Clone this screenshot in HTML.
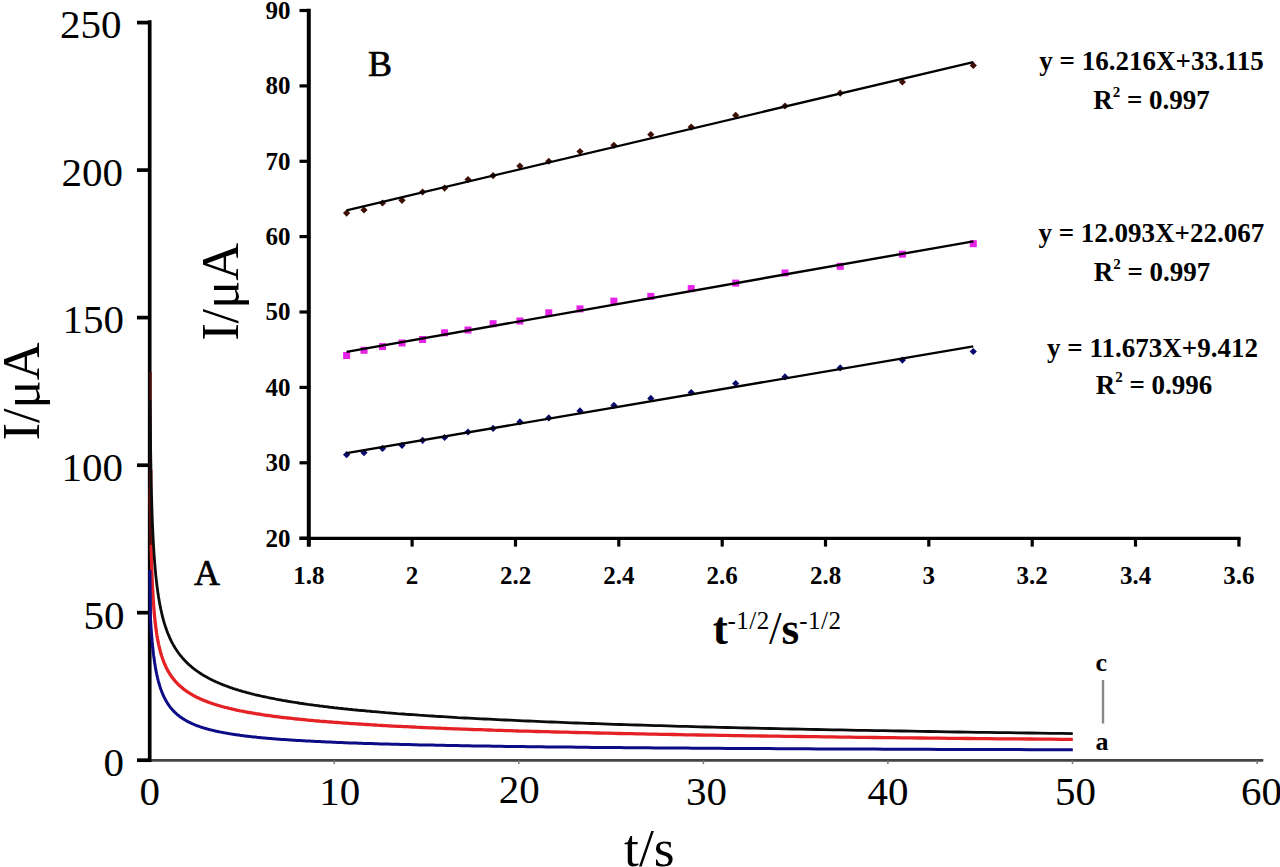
<!DOCTYPE html>
<html><head><meta charset="utf-8"><style>
html,body{margin:0;padding:0;background:#fff;width:1280px;height:867px;overflow:hidden;}
svg{display:block;font-family:"Liberation Serif",serif;}
</style></head><body>
<svg width="1280" height="867" viewBox="0 0 1280 867">
<rect width="1280" height="867" fill="#fff"/>
<line x1="149" y1="760.4" x2="1263.3" y2="760.4" stroke="#444" stroke-width="2.6"/>
<g stroke="#777" stroke-width="1.5">
<line x1="334.3" y1="760.4" x2="334.3" y2="764"/>
<line x1="518.8" y1="760.4" x2="518.8" y2="764"/>
<line x1="703.4" y1="760.4" x2="703.4" y2="764"/>
<line x1="887.9" y1="760.4" x2="887.9" y2="764"/>
<line x1="1072.5" y1="760.4" x2="1072.5" y2="764"/>
<line x1="1257.1" y1="760.4" x2="1257.1" y2="764"/>
</g>
<g stroke="#000" stroke-width="3.7">
<line x1="149.7" y1="20.2" x2="149.7" y2="762"/>
<line x1="137" y1="760.2" x2="151" y2="760.2"/>
<line x1="137" y1="612.7" x2="151" y2="612.7"/>
<line x1="137" y1="465.2" x2="151" y2="465.2"/>
<line x1="137" y1="317.6" x2="151" y2="317.6"/>
<line x1="137" y1="170.1" x2="151" y2="170.1"/>
<line x1="137" y1="22.6" x2="151" y2="22.6"/>
</g>
<g fill="none" stroke-width="2.6" stroke-linejoin="round">
<polyline stroke="#e42226" stroke-width="3.3" points="150.8,470.0 150.4,498.9 150.4,501.4 150.5,503.8 150.5,506.2 150.5,508.6 150.5,510.9 150.6,513.1 150.6,515.3 150.6,517.5 150.7,519.6 150.7,521.7 150.7,523.7 150.8,525.7 150.8,527.6 150.8,529.5 150.9,531.4 150.9,533.3 150.9,535.1 151.0,536.9 151.0,538.6 151.0,540.4 151.1,542.1 151.1,543.7 151.1,545.4 151.2,547.0 151.2,548.6 151.2,550.2 151.3,551.7 151.3,553.2 151.4,554.7 151.4,556.2 151.4,557.7 151.5,559.1 151.5,560.5 151.6,561.9 151.6,563.3 151.6,564.7 151.7,566.0 151.7,567.3 151.8,568.6 151.8,569.9 151.9,571.2 151.9,572.4 152.0,573.7 152.0,574.9 152.0,576.1 152.1,577.3 152.1,578.5 152.2,579.7 152.2,580.8 152.3,582.0 152.3,583.1 152.4,584.2 152.4,585.3 152.5,586.4 152.5,587.5 152.6,588.6 152.7,589.6 152.7,590.7 152.8,591.7 152.8,592.7 152.9,593.8 152.9,594.8 153.0,595.8 153.1,596.7 153.1,597.7 153.2,598.7 153.2,599.6 153.3,600.6 153.4,601.5 153.4,602.5 153.5,603.4 153.6,604.3 153.6,605.2 153.7,606.1 153.8,607.0 153.8,607.8 153.9,608.7 154.0,609.6 154.0,610.4 154.1,611.3 154.2,612.1 154.3,613.0 154.3,613.8 154.4,614.6 154.5,615.4 154.6,616.2 154.6,617.0 154.7,617.8 154.8,618.6 154.9,619.4 155.0,620.1 155.0,620.9 155.1,621.7 155.2,622.4 155.3,623.2 155.4,623.9 155.5,624.6 155.6,625.4 155.6,626.1 155.7,626.8 155.8,627.5 155.9,628.2 156.0,628.9 156.1,629.6 156.2,630.3 156.3,631.0 156.4,631.7 156.5,632.4 156.6,633.1 156.7,633.7 156.8,634.4 156.9,635.0 157.0,635.7 157.1,636.3 157.2,637.0 157.4,637.6 157.5,638.3 157.6,638.9 157.7,639.5 157.8,640.1 157.9,640.7 158.0,641.4 158.2,642.0 158.3,642.6 158.4,643.2 158.5,643.8 158.7,644.4 158.8,645.0 158.9,645.5 159.0,646.1 159.2,646.7 159.3,647.3 159.5,647.8 159.6,648.4 159.7,649.0 159.9,649.5 160.0,650.1 160.2,650.6 160.3,651.2 160.4,651.7 160.6,652.3 160.7,652.8 160.9,653.3 161.1,653.9 161.2,654.4 161.4,654.9 161.5,655.4 161.7,656.0 161.9,656.5 162.0,657.0 162.2,657.5 162.4,658.0 162.5,658.5 162.7,659.0 162.9,659.5 163.1,660.0 163.2,660.5 163.4,661.0 163.6,661.4 163.8,661.9 164.0,662.4 164.2,662.9 164.4,663.4 164.6,663.8 164.8,664.3 165.0,664.8 165.2,665.2 165.4,665.7 165.6,666.1 165.8,666.6 166.0,667.0 166.2,667.5 166.5,667.9 166.7,668.4 166.9,668.8 167.1,669.3 167.4,669.7 167.6,670.1 167.8,670.6 168.1,671.0 168.3,671.4 168.6,671.8 168.8,672.3 169.1,672.7 169.3,673.1 169.6,673.5 169.8,673.9 170.1,674.3 170.4,674.8 170.6,675.2 170.9,675.6 171.2,676.0 171.4,676.4 171.7,676.8 172.0,677.2 172.3,677.5 172.6,677.9 172.9,678.3 173.2,678.7 173.5,679.1 173.8,679.5 174.1,679.9 174.4,680.2 174.7,680.6 175.1,681.0 175.4,681.4 175.7,681.7 176.1,682.1 176.4,682.5 176.7,682.8 177.1,683.2 177.4,683.6 177.8,683.9 178.2,684.3 178.5,684.6 178.9,685.0 179.3,685.3 179.6,685.7 180.0,686.0 180.4,686.4 180.8,686.7 181.2,687.1 181.6,687.4 182.0,687.7 182.4,688.1 182.8,688.4 183.2,688.8 183.7,689.1 184.1,689.4 184.5,689.7 185.0,690.1 185.4,690.4 185.9,690.7 186.3,691.0 186.8,691.4 187.2,691.7 187.7,692.0 188.2,692.3 188.7,692.6 189.2,692.9 189.7,693.3 190.2,693.6 190.7,693.9 191.2,694.2 191.7,694.5 192.2,694.8 192.8,695.1 193.3,695.4 193.9,695.7 194.4,696.0 195.0,696.3 195.6,696.6 196.1,696.9 196.7,697.2 197.3,697.5 197.9,697.7 198.5,698.0 199.1,698.3 199.7,698.6 200.3,698.9 201.0,699.2 201.6,699.4 202.3,699.7 202.9,700.0 203.6,700.3 204.2,700.6 204.9,700.8 205.6,701.1 206.3,701.4 207.0,701.6 207.7,701.9 208.4,702.2 209.2,702.4 209.9,702.7 210.7,703.0 211.4,703.2 212.2,703.5 213.0,703.8 213.7,704.0 214.5,704.3 215.3,704.5 216.2,704.8 217.0,705.0 217.8,705.3 218.7,705.5 219.5,705.8 220.4,706.0 221.2,706.3 222.1,706.5 223.0,706.8 223.9,707.0 224.9,707.3 225.8,707.5 226.7,707.7 227.7,708.0 228.6,708.2 229.6,708.5 230.6,708.7 231.6,708.9 232.6,709.2 233.6,709.4 234.7,709.6 235.7,709.9 236.8,710.1 237.8,710.3 238.9,710.5 240.0,710.8 241.1,711.0 242.3,711.2 243.4,711.4 244.5,711.7 245.7,711.9 246.9,712.1 248.1,712.3 249.3,712.5 250.5,712.7 251.8,713.0 253.0,713.2 254.3,713.4 255.6,713.6 256.9,713.8 258.2,714.0 259.5,714.2 260.9,714.4 262.2,714.7 263.6,714.9 265.0,715.1 266.4,715.3 267.9,715.5 269.3,715.7 270.8,715.9 272.3,716.1 273.8,716.3 275.3,716.5 276.8,716.7 278.4,716.9 279.9,717.1 281.5,717.3 283.2,717.5 284.8,717.6 286.4,717.8 288.1,718.0 289.8,718.2 291.5,718.4 293.3,718.6 295.0,718.8 296.8,719.0 298.6,719.2 300.4,719.4 302.3,719.5 304.1,719.7 306.0,719.9 307.9,720.1 309.8,720.3 311.8,720.4 313.8,720.6 315.8,720.8 317.8,721.0 319.9,721.2 321.9,721.3 324.0,721.5 326.2,721.7 328.3,721.9 330.5,722.0 332.7,722.2 334.9,722.4 337.2,722.5 339.5,722.7 341.8,722.9 344.2,723.1 346.5,723.2 348.9,723.4 351.4,723.6 353.8,723.7 356.3,723.9 358.8,724.0 361.4,724.2 364.0,724.4 366.6,724.5 369.2,724.7 371.9,724.9 374.6,725.0 377.3,725.2 380.1,725.3 382.9,725.5 385.7,725.6 388.6,725.8 391.5,726.0 394.5,726.1 397.5,726.3 400.5,726.4 403.5,726.6 406.6,726.7 409.7,726.9 412.9,727.0 416.1,727.2 419.3,727.3 422.6,727.5 426.0,727.6 429.3,727.8 432.7,727.9 436.2,728.1 439.6,728.2 443.2,728.3 446.7,728.5 450.3,728.6 454.0,728.8 457.7,728.9 461.5,729.1 465.2,729.2 469.1,729.3 473.0,729.5 476.9,729.6 480.9,729.7 484.9,729.9 489.0,730.0 493.1,730.2 497.3,730.3 501.5,730.4 505.8,730.6 510.1,730.7 514.5,730.8 518.9,731.0 523.4,731.1 527.9,731.2 532.5,731.3 537.2,731.5 541.9,731.6 546.6,731.7 551.5,731.9 556.3,732.0 561.3,732.1 566.3,732.2 571.3,732.4 576.4,732.5 581.6,732.6 586.9,732.7 592.2,732.9 597.6,733.0 603.0,733.1 608.5,733.2 614.1,733.4 619.7,733.5 625.4,733.6 631.2,733.7 637.0,733.8 642.9,733.9 648.9,734.1 655.0,734.2 661.1,734.3 667.3,734.4 673.6,734.5 680.0,734.6 686.4,734.8 692.9,734.9 699.5,735.0 706.2,735.1 712.9,735.2 719.7,735.3 726.7,735.4 733.7,735.6 740.7,735.7 747.9,735.8 755.2,735.9 762.5,736.0 769.9,736.1 777.5,736.2 785.1,736.3 792.8,736.4 800.6,736.5 808.5,736.6 816.5,736.7 824.5,736.8 832.7,736.9 841.0,737.1 849.4,737.2 857.9,737.3 866.5,737.4 875.1,737.5 883.9,737.6 892.8,737.7 901.9,737.8 911.0,737.9 920.2,738.0 929.5,738.1 939.0,738.2 948.6,738.3 958.2,738.4 968.0,738.5 978.0,738.6 988.0,738.7 998.2,738.8 1008.4,738.9 1018.8,738.9 1029.4,739.0 1040.0,739.1 1050.8,739.2 1061.7,739.3 1072.8,739.4"/>
<line x1="150.4" y1="372" x2="150.4" y2="545" stroke="#4a0a0a" stroke-width="2.4"/>
<polyline stroke="#0c0c86" stroke-width="3.0" points="149.9,570.0 150.4,617.5 150.4,617.9 150.5,618.4 150.5,618.9 150.5,619.4 150.5,619.9 150.6,620.4 150.6,620.9 150.6,621.3 150.7,621.8 150.7,622.3 150.7,622.8 150.8,623.3 150.8,623.8 150.8,624.3 150.9,624.8 150.9,625.3 150.9,625.8 151.0,626.3 151.0,626.8 151.0,627.3 151.1,627.8 151.1,628.4 151.1,628.9 151.2,629.4 151.2,629.9 151.2,630.4 151.3,630.9 151.3,631.4 151.4,631.9 151.4,632.5 151.4,633.0 151.5,633.5 151.5,634.0 151.6,634.5 151.6,635.1 151.6,635.6 151.7,636.1 151.7,636.6 151.8,637.2 151.8,637.7 151.9,638.2 151.9,638.7 152.0,639.3 152.0,639.8 152.0,640.3 152.1,640.8 152.1,641.4 152.2,641.9 152.2,642.4 152.3,643.0 152.3,643.5 152.4,644.0 152.4,644.5 152.5,645.1 152.5,645.6 152.6,646.1 152.7,646.7 152.7,647.2 152.8,647.7 152.8,648.3 152.9,648.8 152.9,649.3 153.0,649.8 153.1,650.4 153.1,650.9 153.2,651.4 153.2,652.0 153.3,652.5 153.4,653.0 153.4,653.5 153.5,654.1 153.6,654.6 153.6,655.1 153.7,655.7 153.8,656.2 153.8,656.7 153.9,657.2 154.0,657.8 154.0,658.3 154.1,658.8 154.2,659.3 154.3,659.8 154.3,660.4 154.4,660.9 154.5,661.4 154.6,661.9 154.6,662.4 154.7,663.0 154.8,663.5 154.9,664.0 155.0,664.5 155.0,665.0 155.1,665.5 155.2,666.0 155.3,666.5 155.4,667.1 155.5,667.6 155.6,668.1 155.6,668.6 155.7,669.1 155.8,669.6 155.9,670.1 156.0,670.6 156.1,671.1 156.2,671.6 156.3,672.1 156.4,672.6 156.5,673.1 156.6,673.6 156.7,674.1 156.8,674.5 156.9,675.0 157.0,675.5 157.1,676.0 157.2,676.5 157.4,677.0 157.5,677.5 157.6,677.9 157.7,678.4 157.8,678.9 157.9,679.4 158.0,679.8 158.2,680.3 158.3,680.8 158.4,681.2 158.5,681.7 158.7,682.2 158.8,682.6 158.9,683.1 159.0,683.6 159.2,684.0 159.3,684.5 159.5,684.9 159.6,685.4 159.7,685.8 159.9,686.3 160.0,686.7 160.2,687.2 160.3,687.6 160.4,688.1 160.6,688.5 160.7,688.9 160.9,689.4 161.1,689.8 161.2,690.2 161.4,690.7 161.5,691.1 161.7,691.5 161.9,692.0 162.0,692.4 162.2,692.8 162.4,693.2 162.5,693.6 162.7,694.0 162.9,694.5 163.1,694.9 163.2,695.3 163.4,695.7 163.6,696.1 163.8,696.5 164.0,696.9 164.2,697.3 164.4,697.7 164.6,698.1 164.8,698.5 165.0,698.9 165.2,699.3 165.4,699.6 165.6,700.0 165.8,700.4 166.0,700.8 166.2,701.2 166.5,701.6 166.7,701.9 166.9,702.3 167.1,702.7 167.4,703.0 167.6,703.4 167.8,703.8 168.1,704.1 168.3,704.5 168.6,704.8 168.8,705.2 169.1,705.6 169.3,705.9 169.6,706.3 169.8,706.6 170.1,707.0 170.4,707.3 170.6,707.6 170.9,708.0 171.2,708.3 171.4,708.7 171.7,709.0 172.0,709.3 172.3,709.6 172.6,710.0 172.9,710.3 173.2,710.6 173.5,710.9 173.8,711.3 174.1,711.6 174.4,711.9 174.7,712.2 175.1,712.5 175.4,712.8 175.7,713.1 176.1,713.5 176.4,713.8 176.7,714.1 177.1,714.4 177.4,714.7 177.8,715.0 178.2,715.2 178.5,715.5 178.9,715.8 179.3,716.1 179.6,716.4 180.0,716.7 180.4,717.0 180.8,717.3 181.2,717.5 181.6,717.8 182.0,718.1 182.4,718.4 182.8,718.6 183.2,718.9 183.7,719.2 184.1,719.4 184.5,719.7 185.0,720.0 185.4,720.2 185.9,720.5 186.3,720.7 186.8,721.0 187.2,721.3 187.7,721.5 188.2,721.8 188.7,722.0 189.2,722.3 189.7,722.5 190.2,722.7 190.7,723.0 191.2,723.2 191.7,723.5 192.2,723.7 192.8,723.9 193.3,724.2 193.9,724.4 194.4,724.6 195.0,724.9 195.6,725.1 196.1,725.3 196.7,725.5 197.3,725.8 197.9,726.0 198.5,726.2 199.1,726.4 199.7,726.6 200.3,726.8 201.0,727.1 201.6,727.3 202.3,727.5 202.9,727.7 203.6,727.9 204.2,728.1 204.9,728.3 205.6,728.5 206.3,728.7 207.0,728.9 207.7,729.1 208.4,729.3 209.2,729.5 209.9,729.7 210.7,729.9 211.4,730.1 212.2,730.2 213.0,730.4 213.7,730.6 214.5,730.8 215.3,731.0 216.2,731.2 217.0,731.4 217.8,731.5 218.7,731.7 219.5,731.9 220.4,732.1 221.2,732.2 222.1,732.4 223.0,732.6 223.9,732.7 224.9,732.9 225.8,733.1 226.7,733.2 227.7,733.4 228.6,733.6 229.6,733.7 230.6,733.9 231.6,734.1 232.6,734.2 233.6,734.4 234.7,734.5 235.7,734.7 236.8,734.8 237.8,735.0 238.9,735.1 240.0,735.3 241.1,735.4 242.3,735.6 243.4,735.7 244.5,735.9 245.7,736.0 246.9,736.2 248.1,736.3 249.3,736.4 250.5,736.6 251.8,736.7 253.0,736.9 254.3,737.0 255.6,737.1 256.9,737.3 258.2,737.4 259.5,737.5 260.9,737.7 262.2,737.8 263.6,737.9 265.0,738.0 266.4,738.2 267.9,738.3 269.3,738.4 270.8,738.5 272.3,738.7 273.8,738.8 275.3,738.9 276.8,739.0 278.4,739.2 279.9,739.3 281.5,739.4 283.2,739.5 284.8,739.6 286.4,739.7 288.1,739.8 289.8,740.0 291.5,740.1 293.3,740.2 295.0,740.3 296.8,740.4 298.6,740.5 300.4,740.6 302.3,740.7 304.1,740.8 306.0,740.9 307.9,741.0 309.8,741.1 311.8,741.2 313.8,741.3 315.8,741.4 317.8,741.5 319.9,741.6 321.9,741.7 324.0,741.8 326.2,741.9 328.3,742.0 330.5,742.1 332.7,742.2 334.9,742.3 337.2,742.4 339.5,742.5 341.8,742.6 344.2,742.7 346.5,742.8 348.9,742.9 351.4,742.9 353.8,743.0 356.3,743.1 358.8,743.2 361.4,743.3 364.0,743.4 366.6,743.5 369.2,743.5 371.9,743.6 374.6,743.7 377.3,743.8 380.1,743.9 382.9,743.9 385.7,744.0 388.6,744.1 391.5,744.2 394.5,744.3 397.5,744.3 400.5,744.4 403.5,744.5 406.6,744.6 409.7,744.6 412.9,744.7 416.1,744.8 419.3,744.9 422.6,744.9 426.0,745.0 429.3,745.1 432.7,745.1 436.2,745.2 439.6,745.3 443.2,745.3 446.7,745.4 450.3,745.5 454.0,745.5 457.7,745.6 461.5,745.7 465.2,745.7 469.1,745.8 473.0,745.9 476.9,745.9 480.9,746.0 484.9,746.1 489.0,746.1 493.1,746.2 497.3,746.2 501.5,746.3 505.8,746.4 510.1,746.4 514.5,746.5 518.9,746.5 523.4,746.6 527.9,746.7 532.5,746.7 537.2,746.8 541.9,746.8 546.6,746.9 551.5,746.9 556.3,747.0 561.3,747.0 566.3,747.1 571.3,747.1 576.4,747.2 581.6,747.3 586.9,747.3 592.2,747.4 597.6,747.4 603.0,747.5 608.5,747.5 614.1,747.6 619.7,747.6 625.4,747.7 631.2,747.7 637.0,747.7 642.9,747.8 648.9,747.8 655.0,747.9 661.1,747.9 667.3,748.0 673.6,748.0 680.0,748.1 686.4,748.1 692.9,748.2 699.5,748.2 706.2,748.3 712.9,748.3 719.7,748.3 726.7,748.4 733.7,748.4 740.7,748.5 747.9,748.5 755.2,748.5 762.5,748.6 769.9,748.6 777.5,748.7 785.1,748.7 792.8,748.7 800.6,748.8 808.5,748.8 816.5,748.9 824.5,748.9 832.7,748.9 841.0,749.0 849.4,749.0 857.9,749.1 866.5,749.1 875.1,749.1 883.9,749.2 892.8,749.2 901.9,749.2 911.0,749.3 920.2,749.3 929.5,749.3 939.0,749.4 948.6,749.4 958.2,749.4 968.0,749.5 978.0,749.5 988.0,749.5 998.2,749.6 1008.4,749.6 1018.8,749.6 1029.4,749.7 1040.0,749.7 1050.8,749.7 1061.7,749.8 1072.8,749.8"/>
<polyline stroke="#0c0c0c" stroke-width="2.8" points="149.8,400.0 150.4,433.5 150.4,435.7 150.5,437.9 150.5,440.1 150.5,442.3 150.5,444.4 150.6,446.5 150.6,448.6 150.6,450.7 150.7,452.7 150.7,454.7 150.7,456.7 150.8,458.6 150.8,460.5 150.8,462.5 150.9,464.3 150.9,466.2 150.9,468.0 151.0,469.9 151.0,471.7 151.0,473.4 151.1,475.2 151.1,476.9 151.1,478.7 151.2,480.4 151.2,482.1 151.2,483.7 151.3,485.4 151.3,487.0 151.4,488.6 151.4,490.2 151.4,491.8 151.5,493.4 151.5,495.0 151.6,496.5 151.6,498.0 151.6,499.5 151.7,501.0 151.7,502.5 151.8,504.0 151.8,505.4 151.9,506.9 151.9,508.3 152.0,509.7 152.0,511.1 152.0,512.5 152.1,513.9 152.1,515.3 152.2,516.6 152.2,518.0 152.3,519.3 152.3,520.6 152.4,521.9 152.4,523.2 152.5,524.5 152.5,525.8 152.6,527.1 152.7,528.3 152.7,529.6 152.8,530.8 152.8,532.1 152.9,533.3 152.9,534.5 153.0,535.7 153.1,536.9 153.1,538.1 153.2,539.2 153.2,540.4 153.3,541.6 153.4,542.7 153.4,543.8 153.5,545.0 153.6,546.1 153.6,547.2 153.7,548.3 153.8,549.4 153.8,550.5 153.9,551.6 154.0,552.7 154.0,553.7 154.1,554.8 154.2,555.8 154.3,556.9 154.3,557.9 154.4,559.0 154.5,560.0 154.6,561.0 154.6,562.0 154.7,563.0 154.8,564.0 154.9,565.0 155.0,566.0 155.0,567.0 155.1,567.9 155.2,568.9 155.3,569.9 155.4,570.8 155.5,571.8 155.6,572.7 155.6,573.6 155.7,574.6 155.8,575.5 155.9,576.4 156.0,577.3 156.1,578.2 156.2,579.1 156.3,580.0 156.4,580.9 156.5,581.8 156.6,582.7 156.7,583.5 156.8,584.4 156.9,585.3 157.0,586.1 157.1,587.0 157.2,587.8 157.4,588.7 157.5,589.5 157.6,590.3 157.7,591.2 157.8,592.0 157.9,592.8 158.0,593.6 158.2,594.4 158.3,595.2 158.4,596.0 158.5,596.8 158.7,597.6 158.8,598.4 158.9,599.2 159.0,599.9 159.2,600.7 159.3,601.5 159.5,602.2 159.6,603.0 159.7,603.8 159.9,604.5 160.0,605.3 160.2,606.0 160.3,606.7 160.4,607.5 160.6,608.2 160.7,608.9 160.9,609.6 161.1,610.4 161.2,611.1 161.4,611.8 161.5,612.5 161.7,613.2 161.9,613.9 162.0,614.6 162.2,615.3 162.4,616.0 162.5,616.7 162.7,617.3 162.9,618.0 163.1,618.7 163.2,619.4 163.4,620.0 163.6,620.7 163.8,621.4 164.0,622.0 164.2,622.7 164.4,623.3 164.6,624.0 164.8,624.6 165.0,625.2 165.2,625.9 165.4,626.5 165.6,627.1 165.8,627.8 166.0,628.4 166.2,629.0 166.5,629.6 166.7,630.2 166.9,630.9 167.1,631.5 167.4,632.1 167.6,632.7 167.8,633.3 168.1,633.9 168.3,634.5 168.6,635.0 168.8,635.6 169.1,636.2 169.3,636.8 169.6,637.4 169.8,638.0 170.1,638.5 170.4,639.1 170.6,639.7 170.9,640.2 171.2,640.8 171.4,641.3 171.7,641.9 172.0,642.5 172.3,643.0 172.6,643.6 172.9,644.1 173.2,644.6 173.5,645.2 173.8,645.7 174.1,646.3 174.4,646.8 174.7,647.3 175.1,647.8 175.4,648.4 175.7,648.9 176.1,649.4 176.4,649.9 176.7,650.4 177.1,651.0 177.4,651.5 177.8,652.0 178.2,652.5 178.5,653.0 178.9,653.5 179.3,654.0 179.6,654.5 180.0,655.0 180.4,655.5 180.8,655.9 181.2,656.4 181.6,656.9 182.0,657.4 182.4,657.9 182.8,658.4 183.2,658.8 183.7,659.3 184.1,659.8 184.5,660.2 185.0,660.7 185.4,661.2 185.9,661.6 186.3,662.1 186.8,662.6 187.2,663.0 187.7,663.5 188.2,663.9 188.7,664.4 189.2,664.8 189.7,665.3 190.2,665.7 190.7,666.1 191.2,666.6 191.7,667.0 192.2,667.5 192.8,667.9 193.3,668.3 193.9,668.7 194.4,669.2 195.0,669.6 195.6,670.0 196.1,670.4 196.7,670.9 197.3,671.3 197.9,671.7 198.5,672.1 199.1,672.5 199.7,672.9 200.3,673.3 201.0,673.7 201.6,674.2 202.3,674.6 202.9,675.0 203.6,675.4 204.2,675.8 204.9,676.1 205.6,676.5 206.3,676.9 207.0,677.3 207.7,677.7 208.4,678.1 209.2,678.5 209.9,678.9 210.7,679.3 211.4,679.6 212.2,680.0 213.0,680.4 213.7,680.8 214.5,681.1 215.3,681.5 216.2,681.9 217.0,682.2 217.8,682.6 218.7,683.0 219.5,683.3 220.4,683.7 221.2,684.1 222.1,684.4 223.0,684.8 223.9,685.1 224.9,685.5 225.8,685.8 226.7,686.2 227.7,686.5 228.6,686.9 229.6,687.2 230.6,687.6 231.6,687.9 232.6,688.3 233.6,688.6 234.7,688.9 235.7,689.3 236.8,689.6 237.8,689.9 238.9,690.3 240.0,690.6 241.1,690.9 242.3,691.3 243.4,691.6 244.5,691.9 245.7,692.2 246.9,692.6 248.1,692.9 249.3,693.2 250.5,693.5 251.8,693.8 253.0,694.1 254.3,694.5 255.6,694.8 256.9,695.1 258.2,695.4 259.5,695.7 260.9,696.0 262.2,696.3 263.6,696.6 265.0,696.9 266.4,697.2 267.9,697.5 269.3,697.8 270.8,698.1 272.3,698.4 273.8,698.7 275.3,699.0 276.8,699.3 278.4,699.6 279.9,699.9 281.5,700.2 283.2,700.5 284.8,700.7 286.4,701.0 288.1,701.3 289.8,701.6 291.5,701.9 293.3,702.2 295.0,702.4 296.8,702.7 298.6,703.0 300.4,703.3 302.3,703.5 304.1,703.8 306.0,704.1 307.9,704.4 309.8,704.6 311.8,704.9 313.8,705.2 315.8,705.4 317.8,705.7 319.9,706.0 321.9,706.2 324.0,706.5 326.2,706.7 328.3,707.0 330.5,707.3 332.7,707.5 334.9,707.8 337.2,708.0 339.5,708.3 341.8,708.5 344.2,708.8 346.5,709.0 348.9,709.3 351.4,709.5 353.8,709.8 356.3,710.0 358.8,710.3 361.4,710.5 364.0,710.7 366.6,711.0 369.2,711.2 371.9,711.5 374.6,711.7 377.3,711.9 380.1,712.2 382.9,712.4 385.7,712.7 388.6,712.9 391.5,713.1 394.5,713.3 397.5,713.6 400.5,713.8 403.5,714.0 406.6,714.3 409.7,714.5 412.9,714.7 416.1,714.9 419.3,715.2 422.6,715.4 426.0,715.6 429.3,715.8 432.7,716.0 436.2,716.3 439.6,716.5 443.2,716.7 446.7,716.9 450.3,717.1 454.0,717.3 457.7,717.6 461.5,717.8 465.2,718.0 469.1,718.2 473.0,718.4 476.9,718.6 480.9,718.8 484.9,719.0 489.0,719.2 493.1,719.4 497.3,719.6 501.5,719.8 505.8,720.0 510.1,720.2 514.5,720.4 518.9,720.6 523.4,720.8 527.9,721.0 532.5,721.2 537.2,721.4 541.9,721.6 546.6,721.8 551.5,722.0 556.3,722.2 561.3,722.4 566.3,722.6 571.3,722.8 576.4,723.0 581.6,723.2 586.9,723.4 592.2,723.5 597.6,723.7 603.0,723.9 608.5,724.1 614.1,724.3 619.7,724.5 625.4,724.7 631.2,724.8 637.0,725.0 642.9,725.2 648.9,725.4 655.0,725.6 661.1,725.7 667.3,725.9 673.6,726.1 680.0,726.3 686.4,726.4 692.9,726.6 699.5,726.8 706.2,727.0 712.9,727.1 719.7,727.3 726.7,727.5 733.7,727.6 740.7,727.8 747.9,728.0 755.2,728.1 762.5,728.3 769.9,728.5 777.5,728.6 785.1,728.8 792.8,729.0 800.6,729.1 808.5,729.3 816.5,729.5 824.5,729.6 832.7,729.8 841.0,729.9 849.4,730.1 857.9,730.3 866.5,730.4 875.1,730.6 883.9,730.7 892.8,730.9 901.9,731.0 911.0,731.2 920.2,731.3 929.5,731.5 939.0,731.7 948.6,731.8 958.2,732.0 968.0,732.1 978.0,732.3 988.0,732.4 998.2,732.6 1008.4,732.7 1018.8,732.9 1029.4,733.0 1040.0,733.1 1050.8,733.3 1061.7,733.4 1072.8,733.6"/>
</g>
<g font-family="Liberation Serif" font-size="41" fill="#000">
<text x="124.0" y="776.0" text-anchor="end">0</text>
<text x="124.5" y="628.5" text-anchor="end">50</text>
<text x="123.0" y="481.0" text-anchor="end">100</text>
<text x="124.0" y="333.4" text-anchor="end">150</text>
<text x="123.0" y="185.9" text-anchor="end">200</text>
<text x="121.5" y="38.4" text-anchor="end">250</text>
<text x="149.7" y="805.3" text-anchor="middle">0</text>
<text x="339.8" y="805.3" text-anchor="middle">10</text>
<text x="519.3" y="802.8" text-anchor="middle">20</text>
<text x="706.4" y="805.3" text-anchor="middle">30</text>
<text x="887.9" y="805.3" text-anchor="middle">40</text>
<text x="1075.5" y="805.3" text-anchor="middle">50</text>
<text x="1261.6" y="805.3" text-anchor="middle">60</text>
</g>
<text x="649.3" y="866" font-family="Liberation Serif" font-size="53.5" text-anchor="middle">t/s</text>
<text transform="translate(38.8,391.4) rotate(-90)" font-family="Liberation Serif" font-size="52.5" text-anchor="middle">I/μA</text>
<text x="194" y="584.8" font-family="Liberation Serif" font-size="36" stroke="#000" stroke-width="0.7">A</text>
<text x="1095.5" y="671" font-family="Liberation Serif" font-size="26" font-weight="bold">c</text>
<text x="1095.5" y="750" font-family="Liberation Serif" font-size="26" font-weight="bold">a</text>
<line x1="1103" y1="680" x2="1103" y2="723.5" stroke="#888" stroke-width="2.4"/>
<g stroke="#000">
<line x1="308.8" y1="8.8" x2="308.8" y2="546.6" stroke-width="4"/>
<line x1="299.5" y1="538.4" x2="1240.6" y2="538.4" stroke-width="3.2"/>
<line x1="299.5" y1="538.2" x2="309" y2="538.2" stroke-width="3.2"/>
<line x1="299.5" y1="462.8" x2="309" y2="462.8" stroke-width="3.2"/>
<line x1="299.5" y1="387.4" x2="309" y2="387.4" stroke-width="3.2"/>
<line x1="299.5" y1="312.0" x2="309" y2="312.0" stroke-width="3.2"/>
<line x1="299.5" y1="236.6" x2="309" y2="236.6" stroke-width="3.2"/>
<line x1="299.5" y1="161.3" x2="309" y2="161.3" stroke-width="3.2"/>
<line x1="299.5" y1="85.9" x2="309" y2="85.9" stroke-width="3.2"/>
<line x1="299.5" y1="10.5" x2="309" y2="10.5" stroke-width="3.2"/>
<line x1="308.8" y1="538" x2="308.8" y2="546.6" stroke-width="3.2"/>
<line x1="412.1" y1="538" x2="412.1" y2="546.6" stroke-width="3.2"/>
<line x1="515.5" y1="538" x2="515.5" y2="546.6" stroke-width="3.2"/>
<line x1="618.8" y1="538" x2="618.8" y2="546.6" stroke-width="3.2"/>
<line x1="722.2" y1="538" x2="722.2" y2="546.6" stroke-width="3.2"/>
<line x1="825.5" y1="538" x2="825.5" y2="546.6" stroke-width="3.2"/>
<line x1="928.8" y1="538" x2="928.8" y2="546.6" stroke-width="3.2"/>
<line x1="1032.2" y1="538" x2="1032.2" y2="546.6" stroke-width="3.2"/>
<line x1="1135.5" y1="538" x2="1135.5" y2="546.6" stroke-width="3.2"/>
<line x1="1238.9" y1="538" x2="1238.9" y2="546.6" stroke-width="3.2"/>
</g>
<g font-family="Liberation Serif" font-size="25" font-weight="bold" fill="#000">
<text x="290.5" y="546.5" text-anchor="end">20</text>
<text x="290.5" y="471.1" text-anchor="end">30</text>
<text x="290.5" y="395.7" text-anchor="end">40</text>
<text x="290.5" y="320.3" text-anchor="end">50</text>
<text x="290.5" y="244.9" text-anchor="end">60</text>
<text x="290.5" y="169.6" text-anchor="end">70</text>
<text x="290.5" y="94.2" text-anchor="end">80</text>
<text x="290.5" y="18.8" text-anchor="end">90</text>
<text x="308.8" y="584" text-anchor="middle">1.8</text>
<text x="412.1" y="584" text-anchor="middle">2</text>
<text x="515.5" y="584" text-anchor="middle">2.2</text>
<text x="618.8" y="584" text-anchor="middle">2.4</text>
<text x="722.2" y="584" text-anchor="middle">2.6</text>
<text x="825.5" y="584" text-anchor="middle">2.8</text>
<text x="928.8" y="584" text-anchor="middle">3</text>
<text x="1032.2" y="584" text-anchor="middle">3.2</text>
<text x="1135.5" y="584" text-anchor="middle">3.4</text>
<text x="1238.9" y="584" text-anchor="middle">3.6</text>
</g>
<text x="368" y="75.8" font-family="Liberation Serif" font-size="36" stroke="#000" stroke-width="0.7">B</text>
<text transform="translate(237.8,291.8) rotate(-90)" font-family="Liberation Serif" font-size="52.5" text-anchor="middle">I/μA</text>
<g font-family="Liberation Serif"><text x="712.8" y="644" font-size="45.5" font-weight="bold">t</text><text x="727.5" y="629.3" font-size="25" letter-spacing="0.5">-1/2</text><text x="769" y="644" font-size="45.5">/</text><text x="781.5" y="644" font-size="45.5" font-weight="bold">s</text><text x="799.2" y="629.3" font-size="25" letter-spacing="0.5">-1/2</text></g>
<g fill="#3f0f06"><path d="M346.6 209.5L350.2 213.1L346.6 216.7L343.0 213.1Z"/><path d="M364.0 206.4L367.6 210.0L364.0 213.6L360.4 210.0Z"/><path d="M382.5 199.4L386.1 203.0L382.5 206.6L378.9 203.0Z"/><path d="M402.0 196.7L405.6 200.3L402.0 203.9L398.4 200.3Z"/><path d="M422.6 188.4L426.2 192.0L422.6 195.6L419.0 192.0Z"/><path d="M444.6 184.5L448.2 188.1L444.6 191.7L441.0 188.1Z"/><path d="M468.0 175.9L471.6 179.5L468.0 183.1L464.4 179.5Z"/><path d="M493.1 172.0L496.7 175.6L493.1 179.2L489.5 175.6Z"/><path d="M519.9 162.5L523.5 166.1L519.9 169.7L516.3 166.1Z"/><path d="M548.8 157.7L552.4 161.2L548.8 164.8L545.2 161.2Z"/><path d="M580.0 147.9L583.6 151.5L580.0 155.1L576.4 151.5Z"/><path d="M613.9 141.7L617.5 145.3L613.9 148.9L610.3 145.3Z"/><path d="M650.8 131.0L654.4 134.6L650.8 138.2L647.2 134.6Z"/><path d="M691.2 123.5L694.8 127.1L691.2 130.7L687.6 127.1Z"/><path d="M735.7 111.7L739.3 115.3L735.7 118.9L732.1 115.3Z"/><path d="M785.0 102.4L788.6 106.0L785.0 109.6L781.4 106.0Z"/><path d="M840.2 89.6L843.8 93.2L840.2 96.8L836.6 93.2Z"/><path d="M902.4 78.4L906.0 82.0L902.4 85.6L898.8 82.0Z"/><path d="M973.3 61.8L976.9 65.4L973.3 69.0L969.7 65.4Z"/></g>
<g fill="#e622e6"><rect x="343.1" y="352.0" width="7" height="7"/><rect x="360.5" y="346.8" width="7" height="7"/><rect x="379.0" y="343.1" width="7" height="7"/><rect x="398.5" y="339.5" width="7" height="7"/><rect x="419.1" y="336.0" width="7" height="7"/><rect x="441.1" y="329.3" width="7" height="7"/><rect x="464.5" y="326.5" width="7" height="7"/><rect x="489.6" y="320.2" width="7" height="7"/><rect x="516.4" y="317.5" width="7" height="7"/><rect x="545.3" y="309.3" width="7" height="7"/><rect x="576.5" y="305.4" width="7" height="7"/><rect x="610.4" y="297.6" width="7" height="7"/><rect x="647.3" y="292.9" width="7" height="7"/><rect x="687.7" y="285.1" width="7" height="7"/><rect x="732.2" y="279.6" width="7" height="7"/><rect x="781.5" y="269.5" width="7" height="7"/><rect x="836.7" y="262.8" width="7" height="7"/><rect x="898.9" y="250.7" width="7" height="7"/><rect x="969.8" y="240.2" width="7" height="7"/></g>
<g fill="#0a0a6e"><path d="M346.6 451.1L350.2 454.7L346.6 458.3L343.0 454.7Z"/><path d="M364.0 449.1L367.6 452.7L364.0 456.3L360.4 452.7Z"/><path d="M382.5 444.8L386.1 448.4L382.5 452.0L378.9 448.4Z"/><path d="M402.0 441.7L405.6 445.3L402.0 448.9L398.4 445.3Z"/><path d="M422.6 436.7L426.2 440.3L422.6 443.9L419.0 440.3Z"/><path d="M444.6 433.9L448.2 437.5L444.6 441.1L441.0 437.5Z"/><path d="M468.0 428.4L471.6 432.0L468.0 435.6L464.4 432.0Z"/><path d="M493.1 424.8L496.7 428.4L493.1 432.0L489.5 428.4Z"/><path d="M519.9 418.3L523.5 421.9L519.9 425.5L516.3 421.9Z"/><path d="M548.8 414.3L552.4 417.9L548.8 421.5L545.2 417.9Z"/><path d="M580.0 407.3L583.6 410.9L580.0 414.5L576.4 410.9Z"/><path d="M613.9 401.8L617.5 405.4L613.9 409.0L610.3 405.4Z"/><path d="M650.8 394.8L654.4 398.4L650.8 402.0L647.2 398.4Z"/><path d="M691.2 388.9L694.8 392.5L691.2 396.1L687.6 392.5Z"/><path d="M735.7 379.9L739.3 383.5L735.7 387.1L732.1 383.5Z"/><path d="M785.0 373.3L788.6 376.9L785.0 380.5L781.4 376.9Z"/><path d="M840.2 364.3L843.8 367.9L840.2 371.5L836.6 367.9Z"/><path d="M902.4 356.5L906.0 360.1L902.4 363.7L898.8 360.1Z"/><path d="M973.3 347.9L976.9 351.5L973.3 355.1L969.7 351.5Z"/></g>
<g stroke="#000" stroke-width="2.35">
<line x1="346.6" y1="210.3" x2="973.3" y2="62.1"/>
<line x1="346.6" y1="351.8" x2="973.3" y2="241.3"/>
<line x1="346.6" y1="453.1" x2="973.3" y2="346.4"/>
</g>
<g font-family="Liberation Serif" font-size="27" font-weight="bold" fill="#000">
<text x="1151.5" y="69.8" text-anchor="middle">y = 16.216X+33.115</text>
<text x="1151.5" y="108.6" text-anchor="middle">R<tspan font-size="15" dy="-12">2</tspan><tspan dy="12"> = 0.997</tspan></text>
<text x="1151.3" y="242.4" text-anchor="middle">y = 12.093X+22.067</text>
<text x="1152" y="281" text-anchor="middle">R<tspan font-size="15" dy="-12">2</tspan><tspan dy="12"> = 0.997</tspan></text>
<text x="1152.5" y="356.5" text-anchor="middle">y = 11.673X+9.412</text>
<text x="1154" y="394" text-anchor="middle">R<tspan font-size="15" dy="-12">2</tspan><tspan dy="12"> = 0.996</tspan></text>
</g>
</svg>
</body></html>
